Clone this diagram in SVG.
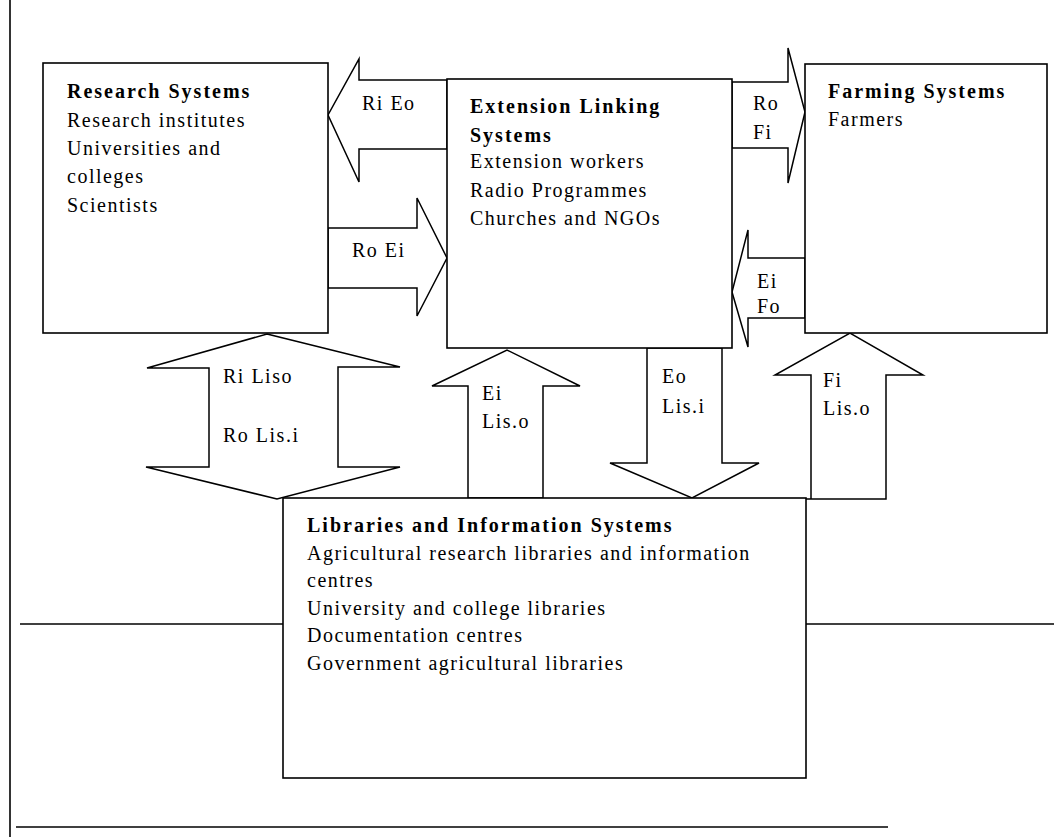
<svg xmlns="http://www.w3.org/2000/svg" width="1054" height="837" viewBox="0 0 1054 837">
<style>
.ln{stroke:#000;stroke-width:1.6;fill:none}
.bx{stroke:#000;stroke-width:1.6;fill:#fff}
.ar{stroke:#000;stroke-width:1.5;fill:#fff;stroke-linejoin:miter}
text{font-family:"Liberation Serif","Times New Roman",serif;font-size:20px;fill:#000;letter-spacing:1.5px}
.b{font-weight:bold;letter-spacing:2px}
</style>
<rect width="1054" height="837" fill="#fff"/>
<g id="frame">
<line class="ln" x1="10" y1="0" x2="10" y2="837"/>
<line class="ln" x1="20" y1="624" x2="283" y2="624"/>
<line class="ln" x1="806" y1="624" x2="1054" y2="624"/>
<line class="ln" x1="16" y1="827" x2="888" y2="827"/>
</g>
<g id="connectors">
<polygon class="ar" points="447,80 359,80 359,59 328,115 359,182 359,149 447,149"/>
<polygon class="ar" points="328,228 417,228 417,198 447,258 417,316 417,288 328,288"/>
<polygon class="ar" points="732,82 788,82 788,48 805,112 788,183 788,148 732,148"/>
<polygon class="ar" points="805,258 748,258 748,230 732,292 748,347 748,318 805,318"/>
<polygon class="ar" points="267,334 400,367 338,367 338,467 400,467 277,499 146,467 209,467 209,368 147,368"/>
<polygon class="ar" points="468,498 468,386 432,386 507,350 580,386 543,386 543,498"/>
<polygon class="ar" points="647,348 647,463 610,463 692,498 759,463 722,463 722,348"/>
<polygon class="ar" points="806,499 811,499 811,375 775,375 850,333 923,375 886,375 886,499 806,499"/>
<text x="362" y="110">Ri Eo</text>
<text x="352" y="257">Ro Ei</text>
<text x="753" y="110">Ro</text>
<text x="753" y="139">Fi</text>
<text x="757" y="288">Ei</text>
<text x="757" y="313">Fo</text>
<text x="223" y="383">Ri Liso</text>
<text x="223" y="442">Ro Lis.i</text>
<text x="482" y="400">Ei</text>
<text x="482" y="428">Lis.o</text>
<text x="662" y="383">Eo</text>
<text x="662" y="413">Lis.i</text>
<text x="823" y="387">Fi</text>
<text x="823" y="415">Lis.o</text>
</g>
<g id="research">
<rect class="bx" x="43" y="63" width="285" height="270"/>
<text x="67" y="98" class="b">Research Systems</text>
<text x="67" y="127">Research institutes</text>
<text x="67" y="155">Universities and</text>
<text x="67" y="183">colleges</text>
<text x="67" y="212">Scientists</text>
</g>
<g id="extension">
<rect class="bx" x="447" y="79" width="285" height="269"/>
<text x="470" y="113" class="b">Extension Linking</text>
<text x="470" y="142" class="b">Systems</text>
<text x="470" y="168">Extension workers</text>
<text x="470" y="197">Radio Programmes</text>
<text x="470" y="225">Churches and NGOs</text>
</g>
<g id="farming">
<rect class="bx" x="805" y="64" width="242" height="269"/>
<text x="828" y="98" class="b">Farming Systems</text>
<text x="828" y="126">Farmers</text>
</g>
<g id="libraries">
<rect class="bx" x="283" y="498" width="523" height="280"/>
<text x="307" y="532" class="b">Libraries and Information Systems</text>
<text x="307" y="560">Agricultural research libraries and information</text>
<text x="307" y="587">centres</text>
<text x="307" y="615">University and college libraries</text>
<text x="307" y="642">Documentation centres</text>
<text x="307" y="670">Government agricultural libraries</text>
</g>
</svg>
